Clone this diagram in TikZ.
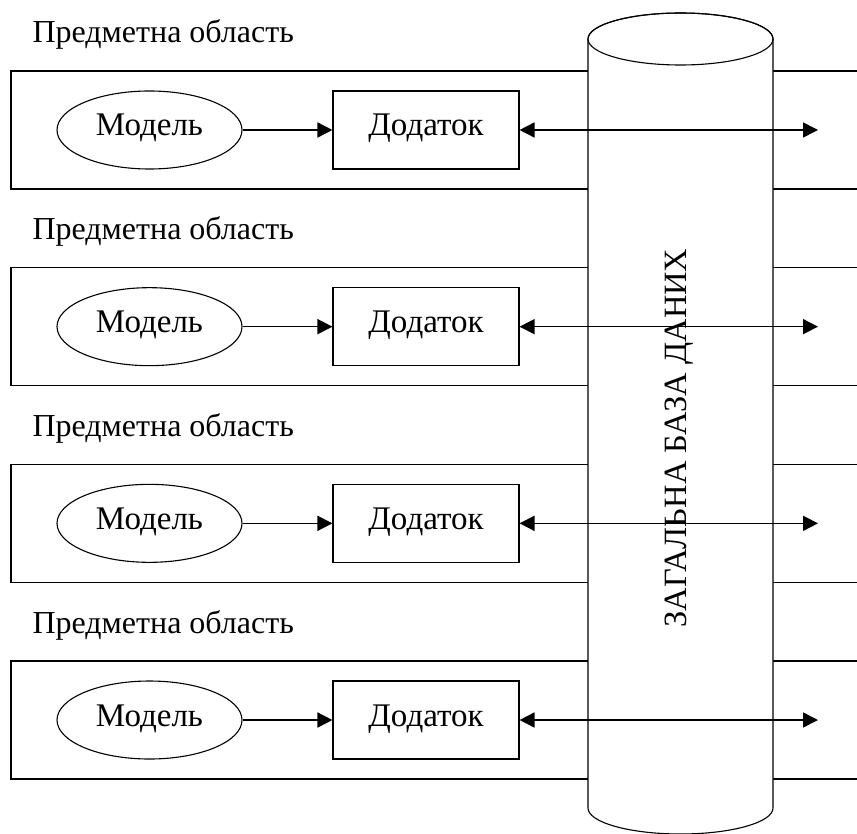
\documentclass[tikz,border=0pt]{standalone}
\usepackage{fontspec}
\setmainfont{Liberation Serif}
\usetikzlibrary{arrows.meta,shapes.geometric}
\begin{document}
\begin{tikzpicture}[x=1pt,y=1pt,
  line width=1.1pt,
  area/.style={draw, line width=1.1pt},
  title/.style={anchor=base west, inner sep=0pt, font=\fontsize{32}{32}\selectfont},
  model/.style={draw, ellipse, minimum width=185pt, minimum height=78pt, inner sep=0pt,
    text height=20pt, text depth=8pt, font=\fontsize{33}{33}\selectfont},
  app/.style={draw, rectangle, minimum width=186pt, minimum height=78pt, inner sep=0pt,
    text height=20pt, text depth=8pt, font=\fontsize{33}{33}\selectfont},
  flow/.style={-{Triangle[length=15pt,width=15pt]}, line width=1.6pt},
  link/.style={{Triangle[length=15pt,width=15pt]}-{Triangle[length=15pt,width=15pt]}, line width=1.6pt}]
\useasboundingbox (0,0) rectangle (857,-834);
% subject-area frames, drawn first so the database covers them
\foreach \i in {0,1,2,3} {
  \pgfmathsetmacro{\top}{-71-196.67*\i}
  \draw[area] (11,\top) rectangle (880,\top-118);
}
% shared database cylinder
\filldraw[fill=white, line width=1.1pt]
  (588,-39) -- (588,-808)
  arc[start angle=180, end angle=360, x radius=92.5, y radius=26]
  -- (773,-39)
  arc[start angle=0, end angle=180, x radius=92.5, y radius=26] -- cycle;
\draw[line width=1.1pt] (680.5,-39) ellipse[x radius=92.5, y radius=26];
\node[rotate=90, inner sep=0pt, font=\fontsize{32.5}{32.5}\selectfont] (db) at (679,-438) {ЗАГАЛЬНА БАЗА ДАНИХ};
% rows: title, model, application, link to the database
\foreach \i in {0,1,2,3} {
  \pgfmathsetmacro{\yc}{-130-196.67*\i}
  \pgfmathsetmacro{\yt}{-43-196.67*\i}
  \node[title] (t\i) at (32,\yt) {Предметна область};
  \node[model] (m\i) at (149.5,\yc) {Модель};
  \node[app] (a\i) at (426,\yc) {Додаток};
  \coordinate (e\i) at (818,\yc);
  \draw[flow] (m\i) -- (a\i);
  \draw[link] (a\i) -- (e\i);
}
\end{tikzpicture}
\end{document}
